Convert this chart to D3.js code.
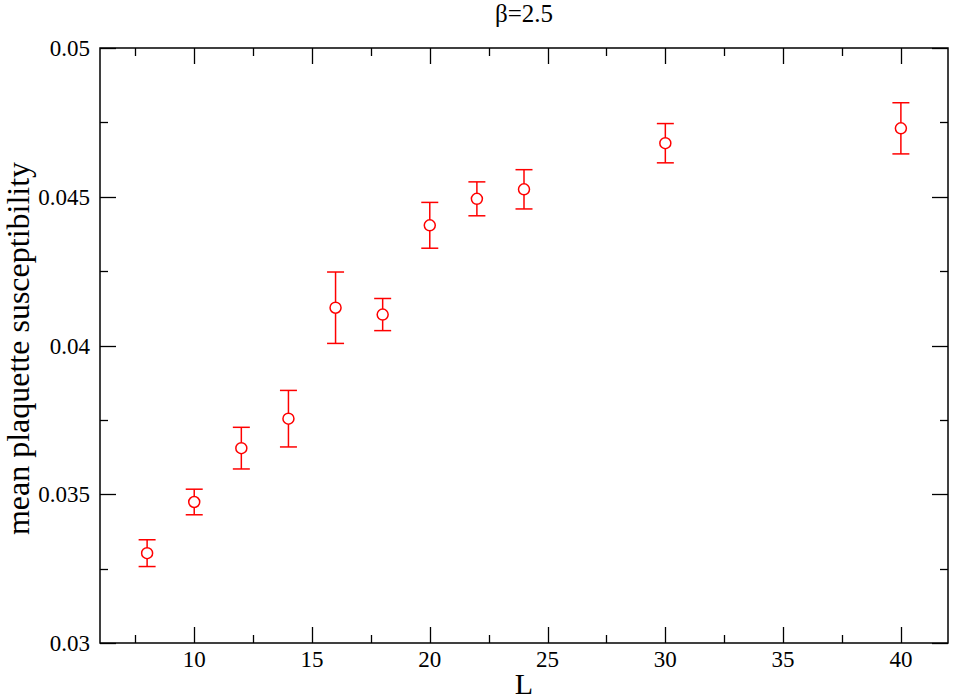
<!DOCTYPE html>
<html>
<head>
    <meta charset="utf-8">
    <style>
        body { margin: 0; padding: 0; overflow: hidden; background-color: #fff; }
    </style>
</head>
<body>
    <div id="chart"></div>
    <script src="https://d3js.org/d3.v7.min.js"></script>
    <script>
        // lattice sizes and measured susceptibility with errors
        var L = [8, 10, 12, 14, 16, 18, 20, 22, 24, 30, 40];
        var chi = [0.03302, 0.03474, 0.03655, 0.03754, 0.04127, 0.04104, 0.04404, 0.04493, 0.04525, 0.04680, 0.04730];
        var err = [0.00045, 0.00043, 0.00070, 0.00095, 0.00120, 0.00054, 0.00077, 0.00057, 0.00066, 0.00066, 0.00086];

        var xTicks = [10, 15, 20, 25, 30, 35, 40];
        var yTicks = [0.03, 0.035, 0.04, 0.045, 0.05];
        var title = "\u03b2=2.5";

        var width = 953, height = 700;
        var margin = {left: 100, right: 5, top: 48, bottom: 57};
        var serif = "'Liberation Serif', 'Times New Roman', serif";

        var svg = d3.select("#chart").append("svg")
            .attr("width", width)
            .attr("height", height);

        var x = d3.scaleLinear().domain([6, 42]).range([margin.left, width - margin.right]);
        var y = d3.scaleLinear().domain([0.03, 0.05]).range([height - margin.bottom, margin.top]);

        var x0 = x.range()[0], x1 = x.range()[1];
        var y0 = y.range()[0], y1 = y.range()[1];

        var xMinor = d3.range(7.5, 42, 5);
        var yMinor = d3.range(0.0325, 0.05, 0.005);

        var major = 16, minor = 8;
        var ticks = svg.append("g").attr("stroke", "#000").attr("stroke-width", 1.3);

        // inward ticks on all four sides
        xTicks.concat(xMinor).forEach(function(v, i) {
            var len = i < xTicks.length ? major : minor;
            var px = Math.round(x(v)) + 0.5;
            ticks.append("line").attr("x1", px).attr("x2", px).attr("y1", y0).attr("y2", y0 - len);
            ticks.append("line").attr("x1", px).attr("x2", px).attr("y1", y1).attr("y2", y1 + len);
        });
        yTicks.concat(yMinor).forEach(function(v, i) {
            var len = i < yTicks.length ? major : minor;
            var py = Math.round(y(v)) + 0.5;
            ticks.append("line").attr("y1", py).attr("y2", py).attr("x1", x0).attr("x2", x0 + len);
            ticks.append("line").attr("y1", py).attr("y2", py).attr("x1", x1).attr("x2", x1 - len);
        });

        svg.append("rect")
            .attr("x", x0).attr("y", y1)
            .attr("width", x1 - x0).attr("height", y0 - y1)
            .attr("fill", "none").attr("stroke", "#000").attr("stroke-width", 1.5);

        svg.append("g").selectAll("text")
            .data(xTicks).enter().append("text")
            .attr("x", d => x(d))
            .attr("y", y0 + 24)
            .attr("text-anchor", "middle")
            .attr("font-family", serif)
            .attr("font-size", 23)
            .text(d => d);

        svg.append("g").selectAll("text")
            .data(yTicks).enter().append("text")
            .attr("x", x0 - 10)
            .attr("y", d => y(d) + 8)
            .attr("text-anchor", "end")
            .attr("font-family", serif)
            .attr("font-size", 23)
            .text(d => d3.format("")(d));

        svg.append("text")
            .attr("x", (x0 + x1) / 2)
            .attr("y", 22)
            .attr("text-anchor", "middle")
            .attr("font-family", serif)
            .attr("font-size", 25)
            .text(title);

        svg.append("text")
            .attr("x", (x0 + x1) / 2)
            .attr("y", 694)
            .attr("text-anchor", "middle")
            .attr("font-family", serif)
            .attr("font-size", 30)
            .text("L");

        svg.append("text")
            .attr("transform", "translate(29," + ((y0 + y1) / 2 + 3) + ") rotate(-90)")
            .attr("text-anchor", "middle")
            .attr("font-family", serif)
            .attr("font-size", 32)
            .text("mean plaquette susceptibility");

        var pts = L.map(function(d, i) { return {L: d, v: chi[i], e: err[i]}; });
        var marks = svg.append("g").attr("stroke", "#ff0000").attr("stroke-width", 1.5).attr("fill", "none");
        var cap = 8.5;

        pts.forEach(function(p) {
            var px = x(p.L);
            marks.append("line").attr("x1", px).attr("x2", px)
                .attr("y1", y(p.v + p.e)).attr("y2", y(p.v) - 5.5);
            marks.append("line").attr("x1", px).attr("x2", px)
                .attr("y1", y(p.v) + 5.5).attr("y2", y(p.v - p.e));
            marks.append("line").attr("x1", px - cap).attr("x2", px + cap)
                .attr("y1", y(p.v + p.e)).attr("y2", y(p.v + p.e));
            marks.append("line").attr("x1", px - cap).attr("x2", px + cap)
                .attr("y1", y(p.v - p.e)).attr("y2", y(p.v - p.e));
            marks.append("circle").attr("cx", px).attr("cy", y(p.v)).attr("r", 5.5);
        });
    </script>
</body>
</html>
